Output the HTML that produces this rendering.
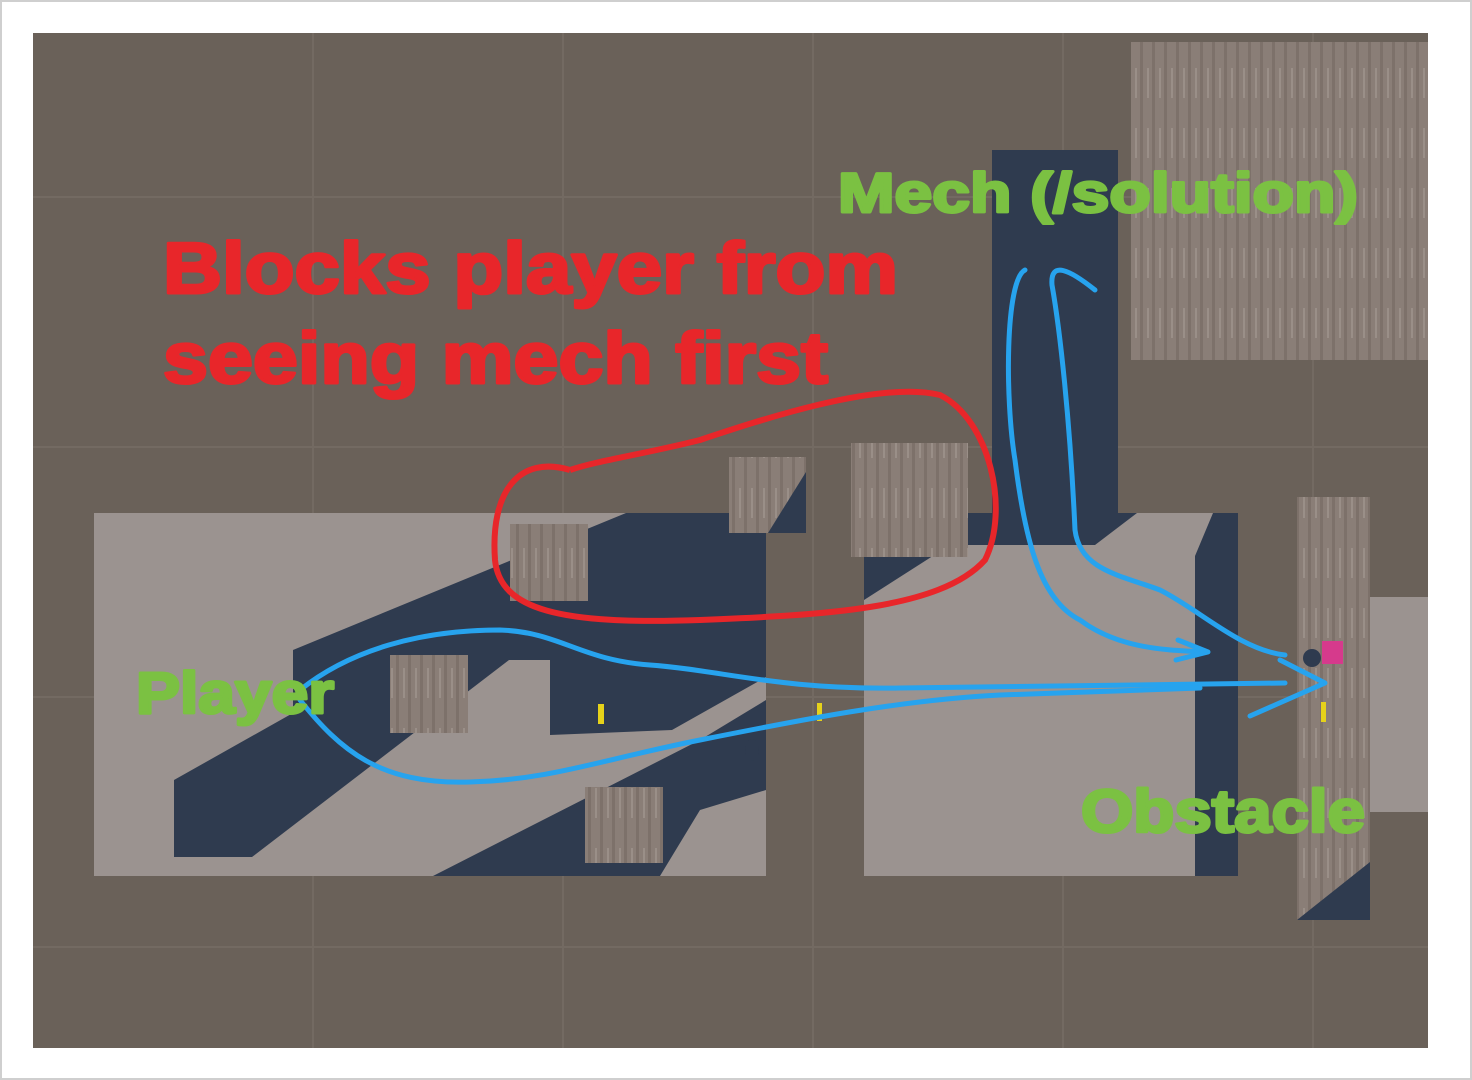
<!DOCTYPE html>
<html><head><style>
html,body{margin:0;padding:0;background:#fff;}
svg{display:block}
</style></head><body>
<svg width="1472" height="1080" viewBox="0 0 1472 1080" xmlns="http://www.w3.org/2000/svg">
<defs>
<pattern id="wood" width="12" height="60" patternUnits="userSpaceOnUse">
<rect width="12" height="60" fill="#8a7e77"/>
<rect x="0" width="3" height="60" fill="#7d716a"/>
<rect x="7" y="8" width="2" height="30" fill="#9a8f88"/>
</pattern>
</defs>
<rect x="0" y="0" width="1472" height="1080" fill="#fff"/>
<rect x="1" y="1" width="1470" height="1078" fill="none" stroke="#cfcfcf" stroke-width="2"/>
<rect x="33" y="33" width="1395" height="1015" fill="#6a6159"/>
<g stroke="#736a62" stroke-width="2">
<line x1="313" y1="33" x2="313" y2="1048"/><line x1="563" y1="33" x2="563" y2="1048"/>
<line x1="813" y1="33" x2="813" y2="1048"/><line x1="1063" y1="33" x2="1063" y2="1048"/>
<line x1="1313" y1="33" x2="1313" y2="1048"/>
<line x1="33" y1="197" x2="1428" y2="197"/><line x1="33" y1="447" x2="1428" y2="447"/>
<line x1="33" y1="697" x2="1428" y2="697"/><line x1="33" y1="947" x2="1428" y2="947"/>
</g>
<rect x="1131" y="42" width="297" height="318" fill="url(#wood)"/>
<rect x="992" y="150" width="126" height="365" fill="#2f3b4f"/>
<rect x="94" y="513" width="672" height="363" fill="#9b9390"/>
<polygon points="174,780 293,713 293,650 626,513 766,513 766,677 672,730 550,735 550,660 509,660 252,857 174,857" fill="#2f3b4f"/>
<polygon points="433,876 660,876 700,810 766,790 766,700 700,740" fill="#2f3b4f"/>
<rect x="864" y="513" width="374" height="363" fill="#2f3b4f"/>
<polygon points="864,612 864,876 1195,876 1195,556 1213,513 1137,513 1095,545 950,545 864,600" fill="#9b9390"/>
<rect x="1195" y="556" width="43" height="320" fill="#2f3b4f"/>
<rect x="1370" y="597" width="58" height="215" fill="#9b9390"/>
<rect x="1297" y="497" width="73" height="423" fill="url(#wood)"/>
<polygon points="1297,920 1370,920 1370,862" fill="#2f3b4f"/>
<rect x="729" y="457" width="77" height="76" fill="url(#wood)"/>
<polygon points="768,533 806,533 806,472" fill="#2f3b4f"/>
<rect x="851" y="443" width="117" height="114" fill="url(#wood)"/>
<rect x="510" y="524" width="78" height="77" fill="url(#wood)"/>
<rect x="390" y="655" width="78" height="78" fill="url(#wood)"/>
<rect x="585" y="787" width="78" height="76" fill="url(#wood)"/>
<rect x="1322" y="641" width="21" height="23" fill="#d63a8c"/>
<circle cx="1312" cy="658" r="9" fill="#2f3b4f"/>
<ellipse cx="752" cy="750" rx="7" ry="11" fill="#2f3b4f"/>
<rect x="598" y="704" width="6" height="20" fill="#e6d21a"/>
<rect x="817" y="703" width="5" height="18" fill="#e6d21a"/>
<rect x="1321" y="702" width="5" height="20" fill="#e6d21a"/>
<path d="M570,470 C520,455 490,490 495,560 C500,610 560,625 700,620 C820,615 940,610 985,560 C1010,510 990,420 940,395 C880,380 760,420 700,440 C640,455 600,460 570,470" fill="none" stroke="#e8262a" stroke-width="6"/>
<g fill="none" stroke="#27a3ee" stroke-width="5" stroke-linecap="round" stroke-linejoin="round">
<path d="M300,690 C350,650 420,630 500,630 C560,632 580,660 650,665 C720,670 780,690 900,688 L1285,683"/>
<path d="M300,700 C340,750 380,785 470,782 C550,780 600,760 700,740 C800,720 900,700 1000,695 L1200,688"/>
<path d="M1280,660 L1325,683 L1250,716"/>
<path d="M1025,270 C1005,280 1005,400 1015,460 C1025,540 1040,600 1080,620 C1120,650 1170,650 1205,652"/>
<path d="M1178,640 L1208,652 L1176,660"/>
<path d="M1095,290 C1070,270 1050,260 1052,285 C1060,330 1070,420 1075,530 C1080,570 1120,575 1160,590 C1200,610 1240,650 1285,655"/>
</g>
<g font-family="Liberation Sans, sans-serif" font-weight="bold" stroke-width="3" stroke-linejoin="round">
<text x="838" y="212" font-size="56" fill="#7bc142" stroke="#7bc142" textLength="520" lengthAdjust="spacingAndGlyphs">Mech (/solution)</text>
<text x="163" y="293" font-size="72" fill="#e8262a" stroke="#e8262a" textLength="735" lengthAdjust="spacingAndGlyphs">Blocks player from</text>
<text x="163" y="383" font-size="72" fill="#e8262a" stroke="#e8262a" textLength="665" lengthAdjust="spacingAndGlyphs">seeing mech first</text>
<text x="136" y="713" font-size="58" fill="#7bc142" stroke="#7bc142" textLength="198" lengthAdjust="spacingAndGlyphs">Player</text>
<text x="1081" y="832" font-size="60" fill="#7bc142" stroke="#7bc142" textLength="284" lengthAdjust="spacingAndGlyphs">Obstacle</text>
</g>
</svg>
</body></html>
